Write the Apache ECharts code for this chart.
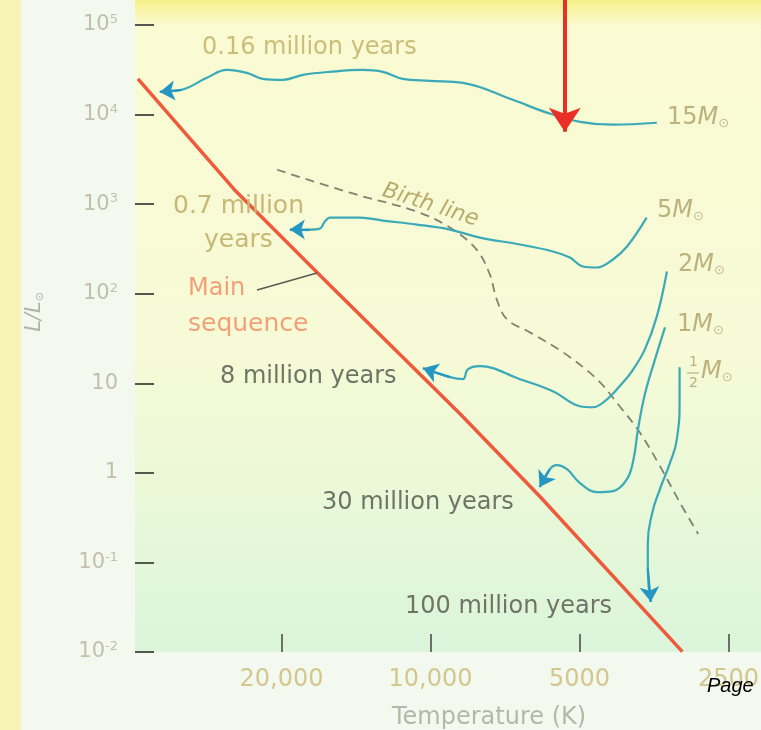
<!DOCTYPE html>
<html>
<head>
<meta charset="utf-8">
<script src="https://cdn.jsdelivr.net/npm/echarts@6/dist/echarts.min.js"></script>
<style>
  html, body { margin: 0; padding: 0; background: #f4f9ef; overflow: hidden; }
  #chart { width: 761px; height: 730px; }
</style>
</head>
<body>
<div id="chart"></div>
<script>
// Pre-main-sequence evolutionary tracks on the H-R diagram.
// Temperatures are in kelvin, luminosities in solar units (L/L_sun).

const tempRange = [2150, 39540];   // right and left edge of the temperature axis
const lumRange = [0.01, 190000];   // bottom and top edge of the luminosity axis

const xTickTemps = [20000, 10000, 5000, 2500];
const xTickLabels = ['20,000', '10,000', '5000', '2500'];
const yTickPowers = [-2, -1, 0, 1, 2, 3, 4, 5];

// zero-age main sequence
const mainSeqTemp = [39000, 24900, 15970, 8700, 6000, 3100];
const mainSeqLum  = [25000, 1450, 124, 4.5, 0.537, 0.0101];

// birth line (dashed)
const birthTemp = [20420, 14550, 10660, 9140, 8070, 7590, 7350, 7010, 6300, 5400, 4610, 4150, 3780, 3440, 3140, 2880];
const birthLum  = [2420, 1340, 825, 547, 311, 164, 86.3, 51.7, 37.0, 22.2, 11.1, 5.54, 2.84, 1.19, 0.472, 0.208];

// 15 solar masses
const track15Temp = [3490, 4280, 4990, 5820, 6820, 8600, 10030, 11380, 12490, 13700, 15970, 18110, 19880, 21820, 23500, 25790, 28310, 31800, 35230];
const track15Lum  = [8100, 7700, 8300, 10500, 14600, 22600, 23800, 25000, 30000, 31500, 30000, 27700, 24400, 25000, 29200, 31500, 25700, 18900, 17900];

// 5 solar masses
const track5Temp = [3660, 4010, 4280, 4610, 4920, 5230, 5660, 6600, 7950, 9140, 10660, 12490, 13890, 15970, 16350, 16740, 17530, 19240];
const track5Lum  = [707, 336, 241, 196, 201, 253, 296, 354, 423, 520, 591, 655, 707, 707, 638, 533, 520, 520];

// 2 solar masses
const track2Temp = [3330, 3490, 3690, 3920, 4150, 4400, 4700, 4990, 5660, 6600, 7950, 8410, 8600, 9140, 10360];
const track2Lum  = [177, 55.8, 23.9, 13.6, 9.26, 6.63, 5.40, 5.54, 8.14, 11.1, 15.5, 14.3, 11.1, 11.7, 14.7];

// 1 solar mass
const track1Temp = [3360, 3520, 3690, 3810, 3890, 4010, 4280, 4610, 4990, 5300, 5560, 5740, 6020];
const track1Lum  = [42.1, 18.5, 7.54, 3.07, 1.42, 0.852, 0.626, 0.610, 0.769, 1.10, 1.22, 1.10, 0.694];

// half a solar mass
const trackHalfTemp = [3140, 3140, 3180, 3290, 3440, 3570, 3640, 3640, 3590];
const trackHalfLum  = [15.1, 6.63, 2.38, 1.25, 0.659, 0.347, 0.161, 0.0847, 0.0363];

// red marker arrow coming down onto the 15 M_sun track
const markerTemp = 5355;
const markerTipLum = 6430;

const log10 = Math.log10;
const toPoints = (T, L) => T.map((t, i) => [log10(t), log10(L[i])]);

const TRACK_COLOR = '#3aa9b8';
const ARROW_COLOR = '#2596c2';
const FONT = 'DejaVu Sans';

function track(name, T, L, smooth) {
  const data = toPoints(T, L);
  const n = data.length;
  return {
    type: 'line', name, data, smooth: smooth, symbol: 'none', z: 4,
    lineStyle: { color: TRACK_COLOR, width: 2.2 },
    emphasis: { disabled: true },
    markLine: {
      silent: true, animation: false,
      symbol: ['none', 'arrow'], symbolSize: 15,
      label: { show: false },
      lineStyle: { color: ARROW_COLOR, width: 2.2, type: 'solid' },
      data: [[{ coord: data[n - 2] }, { coord: data[n - 1] }]]
    }
  };
}

function text(str, x, y, font, fill, extra) {
  return Object.assign({
    type: 'text', x, y, z: 50,
    style: { text: str, font, fill, textAlign: 'left', textVerticalAlign: 'middle', align: 'left', verticalAlign: 'middle' }
  }, extra || {});
}

function massLabel(num, x, y) {
  return {
    type: 'text', x, y, z: 50,
    style: {
      text: '{n|' + num + '}{m|M}{s|\u2299}',
      textVerticalAlign: 'middle', verticalAlign: 'middle',
      rich: {
        n: { fontSize: 24, fontFamily: FONT, fill: '#bdb27e' },
        m: { fontSize: 24, fontFamily: FONT, fontStyle: 'italic', fill: '#bdb27e' },
        s: { fontSize: 13, fontFamily: FONT, fill: '#c5bb8c', verticalAlign: 'bottom', padding: [10, 0, 0, 0] }
      }
    }
  };
}

const chart = echarts.init(document.getElementById('chart'), null, { renderer: 'canvas' });

const option = {
  animation: false,
  grid: { left: 135, right: 0, top: 0, bottom: 78, containLabel: false, outerBoundsMode: 'none' },
  xAxis: {
    type: 'value', inverse: true,
    min: log10(tempRange[0]), max: log10(tempRange[1]),
    axisLine: { show: false, onZero: false }, splitLine: { show: false },
    axisTick: {
      show: true, inside: true, length: 18,
      customValues: xTickTemps.map(log10),
      lineStyle: { color: '#6e7065', width: 2 }
    },
    axisLabel: {
      customValues: xTickTemps.map(log10),
      formatter: v => {
        const i = xTickTemps.findIndex(t => Math.abs(log10(t) - v) < 1e-6);
        return i >= 0 ? xTickLabels[i] : '';
      },
      margin: 16, color: '#d3c68f', fontSize: 24, fontFamily: FONT
    }
  },
  yAxis: {
    type: 'value',
    min: log10(lumRange[0]), max: log10(lumRange[1]),
    axisLine: { show: false, onZero: false }, splitLine: { show: false },
    axisTick: {
      show: true, inside: true, length: 19,
      customValues: yTickPowers,
      lineStyle: { color: '#55574f', width: 2 }
    },
    axisLabel: {
      customValues: yTickPowers,
      margin: 17,
      formatter: v => {
        const p = Math.round(v);
        if (p === 0) return '{b|1}';
        if (p === 1) return '{b|10}';
        return '{b|10}{s|' + p + '}';
      },
      rich: {
        b: { fontSize: 21, fontFamily: FONT, color: '#c2bfaa' },
        s: { fontSize: 13, fontFamily: FONT, color: '#c2bfaa', verticalAlign: 'top', padding: [0, 0, 10, 0] }
      }
    }
  },
  graphic: [
    // page backdrop
    { type: 'rect', z: -100, shape: { x: 0, y: 0, width: 761, height: 730 }, style: { fill: '#f4f9ef' } },
    { type: 'rect', z: -99, shape: { x: 0, y: 0, width: 21, height: 730 }, style: { fill: '#f7f3b4' } },
    {
      type: 'rect', z: -98, shape: { x: 135, y: 0, width: 626, height: 652 },
      style: {
        fill: new echarts.graphic.LinearGradient(0, 0, 0, 1, [
          { offset: 0, color: '#fafbd2' },
          { offset: 0.55, color: '#f6fad6' },
          { offset: 0.78, color: '#e8f8d8' },
          { offset: 1, color: '#dbf5db' }
        ])
      }
    },
    {
      type: 'rect', z: -97, shape: { x: 135, y: 0, width: 626, height: 26 },
      style: {
        fill: new echarts.graphic.LinearGradient(0, 0, 0, 1, [
          { offset: 0, color: 'rgba(246,238,120,0.8)' },
          { offset: 1, color: 'rgba(246,238,120,0)' }
        ])
      }
    },

    // annotations
    text('0.16 million years', 202, 48, '24px "DejaVu Sans"', '#cbbd7a'),
    text('0.7 million', 173, 206, '25px "DejaVu Sans"', '#c7b877'),
    text('years', 204, 240, '25px "DejaVu Sans"', '#c7b877'),
    text('Birth line', 383, 190, 'italic 22px "DejaVu Sans"', '#b8aa6a', { rotation: -0.31, originX: 0, originY: 0 }),
    text('Main', 188, 289, '24px "DejaVu Sans"', '#f2a078'),
    text('sequence', 188, 324, '25px "DejaVu Sans"', '#f2a078'),
    { type: 'line', z: 50, shape: { x1: 257, y1: 290, x2: 317, y2: 273 }, style: { stroke: '#5a5a50', lineWidth: 1.3 } },
    text('8 million years', 220, 377, '24px "DejaVu Sans"', '#6f7466'),
    text('30 million years', 322, 503, '24px "DejaVu Sans"', '#6f7466'),
    text('100 million years', 405, 607, '24px "DejaVu Sans"', '#6f7466'),
    massLabel('15', 667, 118),
    massLabel('5', 657, 211),
    massLabel('2', 678, 265),
    massLabel('1', 677, 325),
    text('1', 689, 362, '14px "DejaVu Sans"', '#bdb27e'),
    { type: 'line', z: 50, shape: { x1: 687, y1: 373, x2: 699, y2: 373 }, style: { stroke: '#bdb27e', lineWidth: 1.2 } },
    text('2', 689, 383, '14px "DejaVu Sans"', '#bdb27e'),
    {
      type: 'text', x: 701, y: 372, z: 50,
      style: {
        text: '{m|M}{s|\u2299}', textVerticalAlign: 'middle', verticalAlign: 'middle',
        rich: {
          m: { fontSize: 24, fontFamily: FONT, fontStyle: 'italic', fill: '#bdb27e' },
          s: { fontSize: 13, fontFamily: FONT, fill: '#c5bb8c', verticalAlign: 'bottom', padding: [10, 0, 0, 0] }
        }
      }
    },
    text('Temperature (K)', 392, 718, '24px "DejaVu Sans"', '#b5b8a8'),
    {
      type: 'text', x: 35, y: 312, z: 50, rotation: Math.PI / 2,
      style: {
        text: '{i|L/L}{s|\u2299}', textAlign: 'center', align: 'center',
        textVerticalAlign: 'middle', verticalAlign: 'middle',
        rich: {
          i: { fontSize: 21, fontFamily: FONT, fontStyle: 'italic', fill: '#b3b3a3' },
          s: { fontSize: 11, fontFamily: FONT, fill: '#b3b3a3', verticalAlign: 'bottom' }
        }
      }
    },
    text('Page', 707, 686, 'italic 20px "Liberation Sans"', '#000000', { z: 200 })
  ],
  series: [
    {
      type: 'line', name: 'Main sequence', data: toPoints(mainSeqTemp, mainSeqLum),
      symbol: 'none', smooth: false, z: 3, emphasis: { disabled: true },
      lineStyle: { color: '#ee5a3c', width: 3.5, join: 'round' }
    },
    {
      type: 'line', name: 'Birth line', data: toPoints(birthTemp, birthLum),
      symbol: 'none', smooth: 0.35, z: 3, emphasis: { disabled: true },
      lineStyle: { color: '#858170', width: 1.8, type: [9, 6] }
    },
    track('15 Msun', track15Temp, track15Lum, 0.4),
    track('5 Msun', track5Temp, track5Lum, 0.4),
    track('2 Msun', track2Temp, track2Lum, 0.4),
    track('1 Msun', track1Temp, track1Lum, 0.4),
    track('0.5 Msun', trackHalfTemp, trackHalfLum, 0.5),
    {
      type: 'lines', coordinateSystem: 'cartesian2d', z: 6, silent: true,
      symbol: ['none', 'arrow'], symbolSize: 24,
      lineStyle: { color: '#ea2f26', width: 4, opacity: 1, curveness: 0 },
      data: [{ coords: [[log10(markerTemp), log10(lumRange[1])], [log10(markerTemp), log10(markerTipLum)]] }]
    }
  ]
};

chart.setOption(option);
</script>
</body>
</html>
